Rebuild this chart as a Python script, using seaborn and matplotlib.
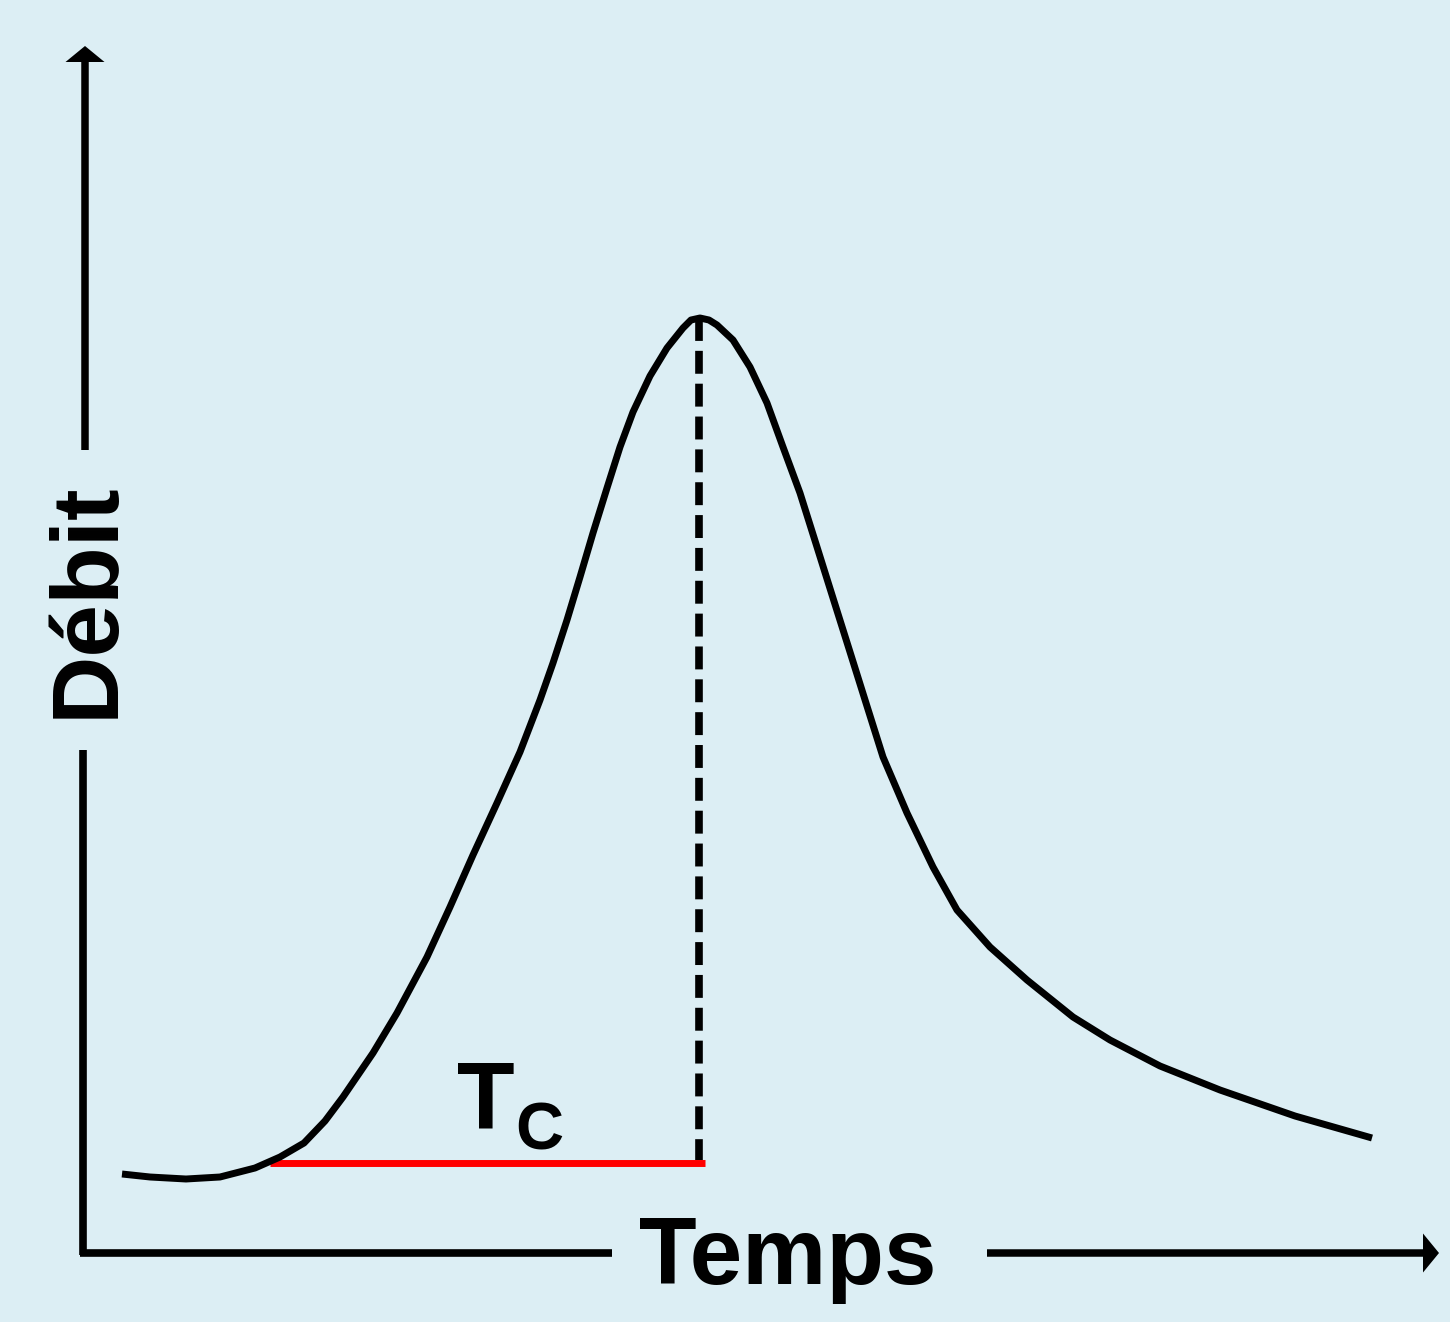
import matplotlib
matplotlib.use("Agg")
import matplotlib.pyplot as plt
import seaborn as sns
import pandas as pd

# hydrograph (time, flow in arbitrary units)
temps = [39, 67, 103, 137, 172, 197, 221, 242, 260, 290, 314, 344, 367, 390,
         414, 437, 457, 470, 484, 497, 510, 524, 537, 550, 567, 584, 600, 608,
         617, 626, 634, 650, 667, 684, 700, 717, 734, 750, 767, 783, 800, 824,
         850, 874, 907, 944, 990, 1027, 1077, 1137, 1212, 1289]
debit = [81, 78, 76, 78, 87, 98, 112, 134, 158, 202, 242, 298, 348, 400,
         452, 503, 555, 592, 635, 678, 722, 767, 808, 843, 879, 907, 927, 935,
         937, 935, 930, 915, 888, 852, 808, 762, 708, 657, 603, 552, 498, 442,
         388, 345, 308, 275, 238, 215, 189, 165, 139, 117]

# time of concentration: start of rise -> peak
tc_start, tc_end, tc_level = 187, 622, 92
peak_t, peak_q = 616, 937

bg = "#DCEEF4"
sns.set_style("white", {"axes.facecolor": bg, "figure.facecolor": bg})
plt.rcParams['font.family'] = ['Liberation Sans', 'DejaVu Sans']
plt.rcParams['text.color'] = 'black'

fig = plt.figure(figsize=(14.5, 13.22), dpi=100)
ax = fig.add_axes([0, 0, 1, 1])
ax.set_xlim(-83, 1367)
ax.set_ylim(-67, 1255)
ax.axis('off')

df = pd.DataFrame({"Temps": temps, "Debit": debit})
sns.lineplot(data=df, x="Temps", y="Debit", sort=False, color="black",
             linewidth=5, ax=ax, solid_joinstyle='round', solid_capstyle='butt')

# Tc segment and peak marker
ax.plot([tc_start, tc_end], [tc_level, tc_level], color="#FF0000", lw=5, zorder=1,
        solid_capstyle='butt')
ax.plot([peak_t, peak_t], [peak_q, tc_level + 3], color="black", lw=5.5,
        dashes=(3.0, 1.3), dash_capstyle='butt')

ax.text(374, 127, "T", fontsize=68, fontweight='bold', color='black',
        ha='left', va='baseline')
ax.text(432, 105, "C", fontsize=48, fontweight='bold', color='black',
        ha='left', va='baseline')

# axes drawn as arrows with gaps for the labels
ax.plot([0, 0], [0, 505], color='black', lw=5.5, solid_capstyle='butt')
ax.arrow(2, 805, 0, 404, width=7.5, head_width=39, head_length=16,
         length_includes_head=True, fc='black', ec='none')
ax.plot([-3, 529], [2, 2], color='black', lw=5.5, solid_capstyle='butt')
ax.arrow(904, 2, 452, 0, width=7.5, head_width=39, head_length=16,
         length_includes_head=True, fc='black', ec='none')

ax.text(5, 655, "Débit", fontsize=68, fontweight='bold', color='black',
        rotation=90, ha='center', va='center')
ax.text(556, -29, "Temps", fontsize=68, fontweight='bold', color='black',
        ha='left', va='baseline')

fig.savefig("out.png", dpi=100, facecolor=bg)
